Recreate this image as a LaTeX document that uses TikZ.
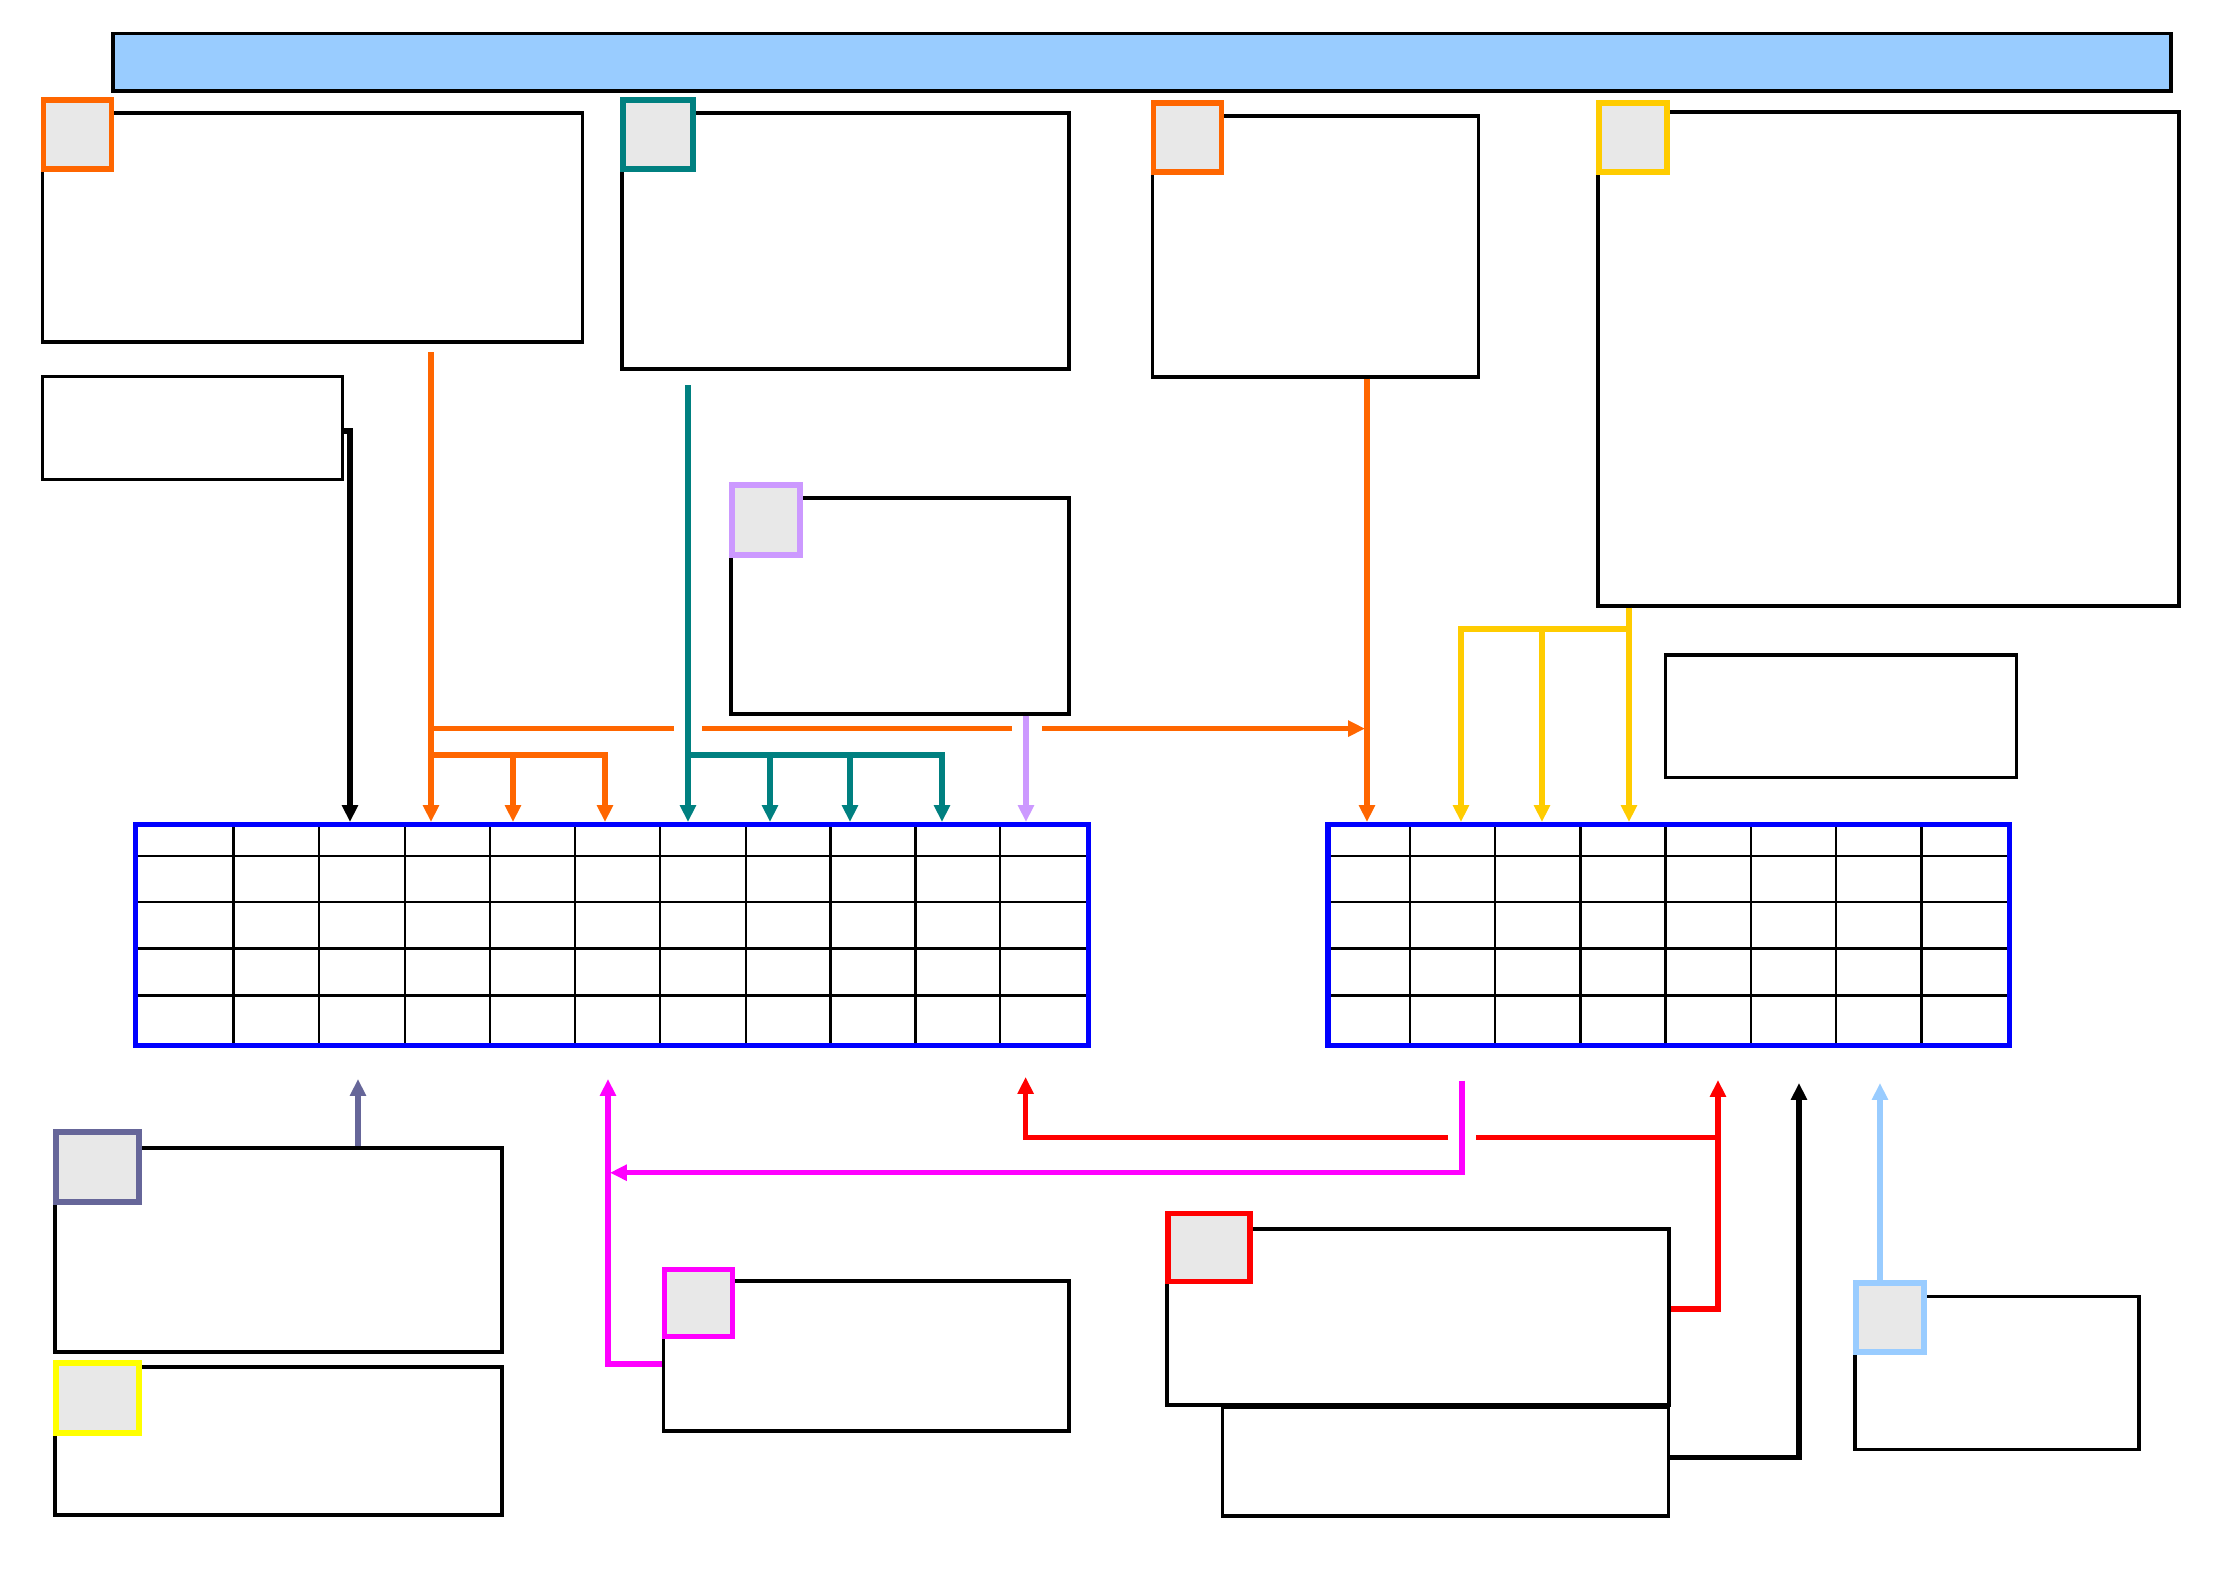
\documentclass[tikz,border=0pt]{standalone}
\usetikzlibrary{arrows.meta}
\definecolor{orng}{HTML}{FF6600}
\definecolor{tealc}{HTML}{008080}
\definecolor{lilac}{HTML}{CC99FF}
\definecolor{amber}{HTML}{FFCC00}
\definecolor{slate}{HTML}{666699}
\definecolor{lemon}{HTML}{FFFF00}
\definecolor{magen}{HTML}{FF00FF}
\definecolor{redc}{HTML}{FF0000}
\definecolor{skyblue}{HTML}{99CCFF}
\definecolor{gridblue}{HTML}{0000FF}
\definecolor{badgegray}{HTML}{E8E8E8}
\tikzset{
  box/.style={draw, line width=1.05pt, anchor=north west, inner sep=0pt},
  badge/.style={draw=#1, fill=badgegray, line width=1.6pt, anchor=north west, inner sep=0pt, minimum width=0.68cm, minimum height=0.69cm},
  tab/.style={draw=gridblue, line width=1.5pt, anchor=north west, inner sep=0pt, minimum height=2.21cm},
  cell/.style={line width=0.8pt},
  wire/.style={line width=1.55pt},
  arr/.style={-{Triangle[length=4.8pt,width=4.4pt]}}
}
\begin{document}
\begin{tikzpicture}[y=-1cm]
				\useasboundingbox (0,0) rectangle (22.33,15.79);
				% Title bar
				\fill (1.14,0.345) rectangle (21.72,0.918);
				\node[draw, line width=1.1pt, fill=skyblue, anchor=north west, inner sep=0pt, minimum width=20.58cm, minimum height=0.577cm] (title) at (1.11,0.316) {};
				% Upper boxes
				\node[box, minimum width=5.40cm, minimum height=2.29cm] (boxA) at (0.407,1.11) {};
				\node[box, minimum width=4.47cm, minimum height=2.56cm] (boxB) at (6.20,1.11) {};
				\node[box, minimum width=3.26cm, minimum height=2.61cm] (boxG) at (11.506,1.14) {};
				\node[box, minimum width=5.81cm, minimum height=4.94cm] (boxY) at (15.96,1.10) {};
				\node[box, minimum width=3.00cm, minimum height=1.03cm] (boxC) at (0.407,3.745) {};
				\node[box, minimum width=3.38cm, minimum height=2.16cm] (boxD) at (7.29,4.96) {};
				\node[box, minimum width=3.51cm, minimum height=1.225cm] (boxH) at (16.636,6.53) {};
				% Lower boxes
				\node[box, minimum width=4.47cm, minimum height=2.04cm] (boxE) at (0.53,11.46) {};
				\node[box, minimum width=4.47cm, minimum height=1.48cm] (boxF) at (0.53,13.65) {};
				\node[box, minimum width=4.055cm, minimum height=1.50cm] (boxP) at (6.615,12.79) {};
				\node[box, minimum width=5.02cm, minimum height=1.76cm] (boxR) at (11.65,12.27) {};
				\node[box, minimum width=4.46cm, minimum height=1.081cm] (boxS) at (12.207,14.057) {};
				\node[box, minimum width=2.84cm, minimum height=1.528cm] (boxL) at (18.53,12.947) {};
				% Badges
				\node[badge=orng] (bA) at (0.407,0.97) {};
				\node[badge=tealc, minimum width=0.70cm] (bB) at (6.20,0.97) {};
				\node[badge=orng] (bG) at (11.506,1.00) {};
				\node[badge=amber] (bY) at (15.96,1.00) {};
				\node[badge=lilac, minimum height=0.70cm] (bD) at (7.29,4.82) {};
				\node[badge=slate, minimum width=0.83cm, minimum height=0.70cm] (bE) at (0.53,11.29) {};
				\node[badge=lemon, minimum width=0.83cm, minimum height=0.70cm] (bF) at (0.53,13.60) {};
				\node[badge=magen, minimum height=0.67cm] (bP) at (6.615,12.666) {};
				\node[badge=redc, minimum width=0.82cm, minimum height=0.68cm] (bR) at (11.65,12.106) {};
				\node[badge=skyblue] (bL) at (18.53,12.80) {};
				% Tables
				\foreach \x in {2.336,3.19,4.05,4.90,5.75,6.60,7.46,8.306,9.155,10.00}
				{\draw[cell] (\x,8.22) -- (\x,10.43);}
				\foreach \x in {14.10,14.95,15.805,16.658,17.51,18.36,19.215}
				{\draw[cell] (\x,8.22) -- (\x,10.43);}
				\foreach \y in {8.56,9.02,9.487,9.955}
				{\draw[cell] (1.33,\y) -- (10.86,\y); \draw[cell] (13.254,\y) -- (20.07,\y);}
				\node[tab, minimum width=9.53cm] (tabL) at (1.33,8.22) {};
				\node[tab, minimum width=6.816cm] (tabR) at (13.254,8.22) {};
				% Arrows into the left table
				\draw[wire,arr] ([yshift=-0.03cm]boxC.east) -| (3.50,0 |- tabL.north);
				\coordinate (oA) at (4.31,3.52);
				\draw[wire,orng,arr] (oA) -- (4.31,0 |- tabL.north);
				\draw[wire,orng] (4.31,7.286) -- (6.74,7.286);
				\draw[wire,orng] (7.02,7.286) -- (10.12,7.286);
				\draw[wire,orng,arr] (10.42,7.286) -- (13.65,7.286);
				\draw[wire,orng,arr] (4.31,7.55) -| (6.05,0 |- tabL.north);
				\draw[wire,orng,arr] (5.13,7.55) -- (5.13,0 |- tabL.north);
				\coordinate (tB) at (6.88,3.85);
				\draw[wire,tealc,arr] (tB) -- (6.88,0 |- tabL.north);
				\draw[wire,tealc,arr] (6.88,7.55) -| (9.42,0 |- tabL.north);
				\foreach \x in {7.70,8.50}
				{\draw[wire,tealc,arr] (\x,7.55) -- (\x,0 |- tabL.north);}
				\draw[wire,lilac,arr] (boxD.south -| 10.26,0) -- (10.26,0 |- tabL.north);
				% Arrows into the right table
				\draw[wire,orng,arr] (boxG.south -| 13.67,0) -- (13.67,0 |- tabR.north);
				\draw[wire,amber,arr] (boxY.south -| 16.29,0) -- (16.29,0 |- tabR.north);
				\draw[wire,amber,arr] (16.29,6.29) -| (14.61,0 |- tabR.north);
				\draw[wire,amber,arr] (15.42,6.29) -- (15.42,0 |- tabR.north);
				% Arrows from below
				\draw[wire,slate,arr] (boxE.north -| 3.58,0) -- (3.58,10.79);
				\draw[wire,magen,arr] ([yshift=-0.08cm]boxP.west) -| (6.08,10.79);
				\draw[wire,magen,arr] (14.62,10.806) |- (6.10,11.727);
				\draw[wire,redc,arr] ([yshift=0.08cm]boxR.east) -| (17.18,10.80);
				\draw[wire,redc] (17.18,11.377) -- (14.76,11.377);
				\draw[wire,redc,arr] (14.48,11.377) -| (10.256,10.77);
				\draw[wire,arr] ([yshift=0.04cm]boxS.east) -| (17.99,10.83);
				\draw[wire,skyblue,arr] (bL.north -| 18.80,0) -- (18.80,10.83);
			\end{tikzpicture}
\end{document}
